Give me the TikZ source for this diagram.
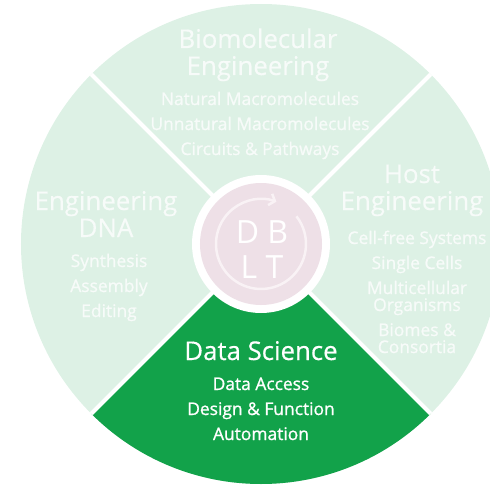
\documentclass[tikz,border=0pt]{standalone}
\usepackage{fontspec}
\setmainfont{Open Sans}
\newfontfamily\titlefont{Open Sans}[FakeBold=0.4]
\newfontfamily\itemfont{Open Sans}[FakeBold=1.0]
\usetikzlibrary{arrows.meta}
\definecolor{sectorlight}{RGB}{221,241,229}
\definecolor{sectordark}{RGB}{18,162,74}
\definecolor{hubpink}{RGB}{238,224,231}
\definecolor{hubarrow}{RGB}{249,242,245}
\definecolor{softwhite}{RGB}{247,251,249}

\begin{document}
\begin{tikzpicture}[x=1pt, y=1pt,
      title/.style={text=softwhite, align=center, anchor=base,
                    inner sep=0pt, font=\titlefont\fontsize{25.8}{27}\selectfont},
      items/.style={text=softwhite, align=center, anchor=base,
                    inner sep=0pt, font=\itemfont\fontsize{17.4}{25}\selectfont},
      divider/.style={white, line width=4pt}]
    \useasboundingbox (-261,244) rectangle (229,-241);

    % wheel
    \fill[sectorlight] (0,0) circle (240);
    \fill[sectordark] (0,0) -- (225:240) arc (225:315:240) -- cycle;
    \foreach \a in {45,135,225,315}
      \draw[divider] (0,0) -- (\a:240);

    % hub
    \fill[white] (0,0) circle (69);
    \fill[hubpink] (0,0) circle (61);
    \draw[hubarrow, line width=2.5pt, -{Straight Barb[length=5pt,width=12pt]}]
      (38:45) arc (38:-290:45);
    \node[text=white, align=center, anchor=base, inner sep=0pt,
          font=\fontsize{32}{35}\selectfont] (dblt) at (1,-34) {D B\\L T};

    % sectors (anchored at the last baseline)
    \node[title] (bio) at (-3,169) {Biomolecular\\Engineering};
    \node[items] (biolist) at (-1,89) {Natural Macromolecules\\
      Unnatural Macromolecules\\Circuits \& Pathways};
    \node[title] (dna) at (-155,7) {Engineering\\DNA};
    \node[items] (dnalist) at (-152,-73) {Synthesis\\Assembly\\Editing};
    \node[title] (host) at (151,34) {Host\\Engineering};
    \node[items] (hostlist) at (156,-109) {Cell-free Systems\\Single Cells\\
      Multicellular\\[-8pt]Organisms\\Biomes \&\\[-8pt]Consortia};
    \node[title, text=white] (data) at (0,-116) {Data Science};
    \node[items, text=white] (datalist) at (0,-196) {Data Access\\
      Design \& Function\\Automation};
  \end{tikzpicture}
\end{document}
